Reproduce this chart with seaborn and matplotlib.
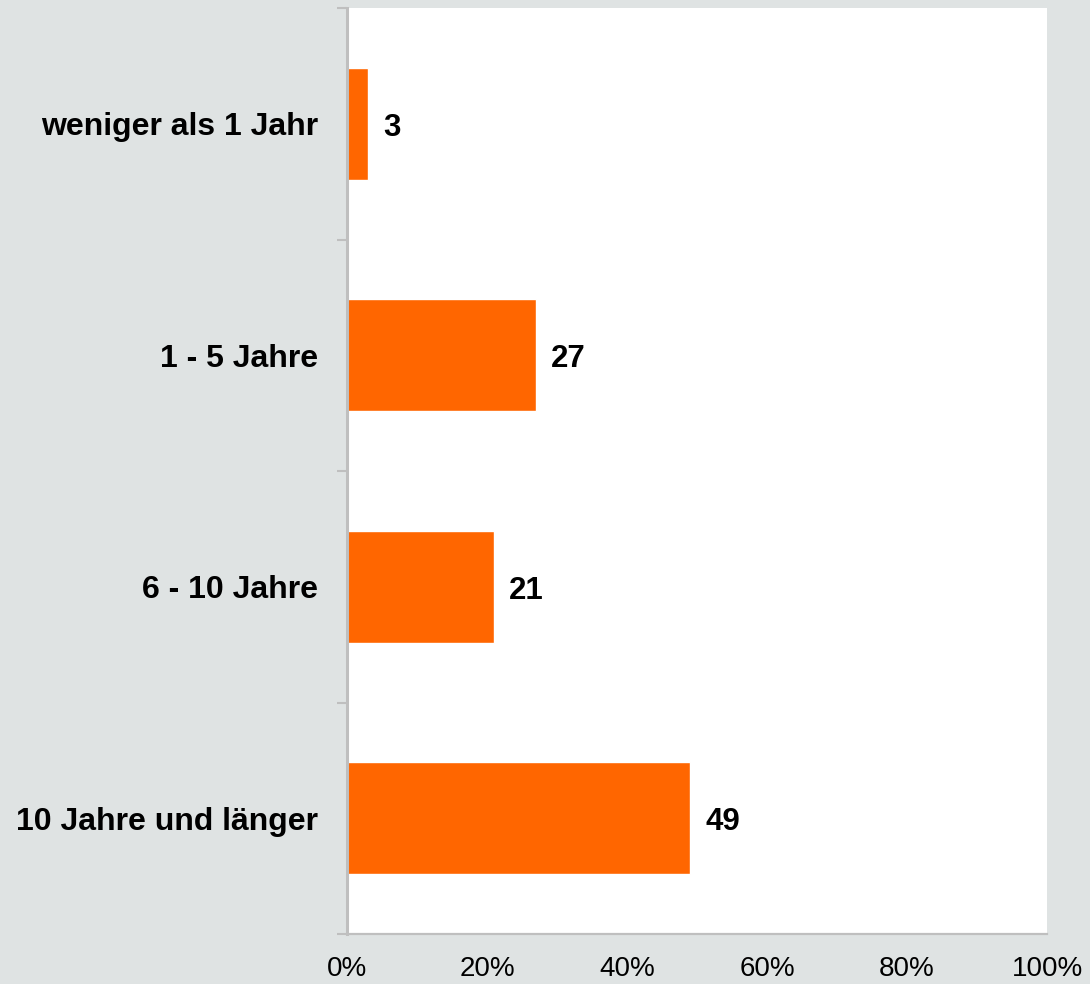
import matplotlib
matplotlib.use("Agg")
import matplotlib.pyplot as plt
import seaborn as sns
import pandas as pd
import numpy as np
from matplotlib.ticker import FixedLocator, PercentFormatter

categories = ["weniger als 1 Jahr", "1 - 5 Jahre", "6 - 10 Jahre", "10 Jahre und länger"]
values = [3, 27, 21, 49]
xticks = [0, 20, 40, 60, 80, 100]

df = pd.DataFrame({"cat": categories, "val": values})

sns.set_theme(style="white")
plt.rcParams["font.family"] = ["Liberation Sans", "DejaVu Sans"]

bg = "#dfe3e3"
spine = "#bfbfbf"
orange = "#ff6600"

fig = plt.figure(figsize=(10.9, 9.84), dpi=100, facecolor=bg)
ax = fig.add_axes([347/1090, 1-934/984, 700/1090, 926/984])
ax.set_facecolor("white")

sns.barplot(data=df, x="val", y="cat", orient="h", color=orange, saturation=1,
            width=0.485, ax=ax, order=categories)

ax.set_xlim(0, 100)
ax.set_ylim(len(categories) - 0.5, -0.5)
ax.set_xticks(xticks)
ax.xaxis.set_major_formatter(PercentFormatter(decimals=0))
ax.tick_params(axis="x", length=0, pad=16, labelsize=20, colors="black")
ax.set_xlabel("")
ax.set_ylabel("")

# category labels
ax.tick_params(axis="y", which="major", length=0, pad=21, labelsize=23)
for lbl in ax.get_yticklabels():
    lbl.set_fontweight("bold")
    lbl.set_color("black")
ax.yaxis.set_minor_locator(FixedLocator(np.arange(-0.5, len(categories), 1.0)))
ax.tick_params(axis="y", which="minor", length=7.2, width=1.5, color=spine, left=True)

for s in ["top", "right"]:
    ax.spines[s].set_visible(False)
ax.spines["left"].set_color(spine)
ax.spines["left"].set_linewidth(2.2)
ax.spines["bottom"].set_color(spine)
ax.spines["bottom"].set_linewidth(1.6)

for i, v in enumerate(values):
    ax.annotate(f"{v}", xy=(v, i), xytext=(11, -3), textcoords="offset points",
                ha="left", va="center", fontsize=22.5, fontweight="bold", color="black")

fig.savefig("out.png", dpi=100, facecolor=bg)
